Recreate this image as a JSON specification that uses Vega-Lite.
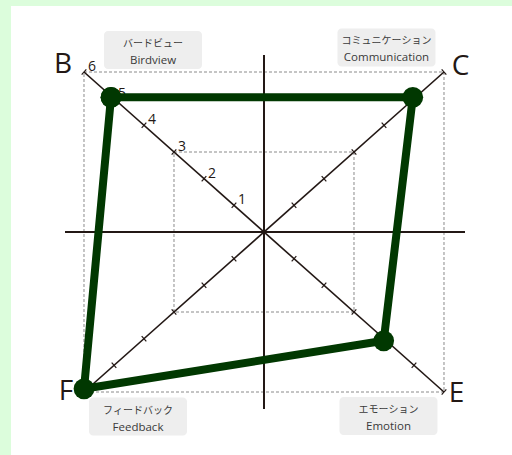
{
  "$schema": "https://vega.github.io/schema/vega-lite/v6.json",
  "width": 512,
  "height": 455,
  "autosize": {"type": "none"},
  "padding": 0,
  "background": "#dcfddc",
  "config": {"view": {"stroke": null}},
  "encoding": {
    "x": {"field": "x", "type": "quantitative", "axis": null, "scale": {"domain": [-8.8, 8.2667], "nice": false, "zero": false}},
    "y": {"field": "y", "type": "quantitative", "axis": null, "scale": {"domain": [-8.3625, 8.7], "nice": false, "zero": false}}
  },
  "layer": [
    {
      "data": {"values": [{"x": -8.433, "x2": 8.2667, "y": 8.475, "y2": -8.3625}]},
      "mark": {"type": "rect", "fill": "white"},
      "encoding": {"x2": {"field": "x2"}, "y2": {"field": "y2"}}
    },
    {
      "data": {"values": [{"x": -6, "x2": 6, "y": 6, "y2": -6}, {"x": -3, "x2": 3, "y": 3, "y2": -3}]},
      "mark": {"type": "rect", "fillOpacity": 0, "stroke": "#8a8a8a", "strokeWidth": 1, "strokeDash": [3, 2]},
      "encoding": {"x2": {"field": "x2"}, "y2": {"field": "y2"}}
    },
    {
      "data": {"values": [{"x": -6.633, "x2": 6.7, "y": 0, "y2": 0}, {"x": 0, "x2": 0, "y": 6.6375, "y2": -6.6375}]},
      "mark": {"type": "rule", "stroke": "#231815", "strokeWidth": 2},
      "encoding": {"x2": {"field": "x2"}, "y2": {"field": "y2"}}
    },
    {
      "data": {"values": [{"x": -6, "x2": 6, "y": 6, "y2": -6}, {"x": -6, "x2": 6, "y": -6, "y2": 6}]},
      "mark": {"type": "rule", "stroke": "#231815", "strokeWidth": 1.6},
      "encoding": {"x2": {"field": "x2"}, "y2": {"field": "y2"}}
    },
    {
      "data": {"values": [
        {"x": -1, "y": 1}, {"x": -2, "y": 2}, {"x": -3, "y": 3}, {"x": -4, "y": 4}, {"x": -5, "y": 5}, {"x": -6, "y": 6},
        {"x": 1, "y": -1}, {"x": 2, "y": -2}, {"x": 3, "y": -3}, {"x": 4, "y": -4}, {"x": 5, "y": -5}, {"x": 6, "y": -6}
      ]},
      "mark": {"type": "point", "shape": "stroke", "angle": 131.6, "size": 49, "filled": false, "stroke": "#231815", "strokeWidth": 1.2, "opacity": 1}
    },
    {
      "data": {"values": [
        {"x": 1, "y": 1}, {"x": 2, "y": 2}, {"x": 3, "y": 3}, {"x": 4, "y": 4}, {"x": 5, "y": 5}, {"x": 6, "y": 6},
        {"x": -1, "y": -1}, {"x": -2, "y": -2}, {"x": -3, "y": -3}, {"x": -4, "y": -4}, {"x": -5, "y": -5}, {"x": -6, "y": -6}
      ]},
      "mark": {"type": "point", "shape": "stroke", "angle": 48.4, "size": 49, "filled": false, "stroke": "#231815", "strokeWidth": 1.2, "opacity": 1}
    },
    {
      "data": {"values": [
        {"x": -1, "y": 1, "t": "1"}, {"x": -2, "y": 2, "t": "2"}, {"x": -3, "y": 3, "t": "3"},
        {"x": -4, "y": 4, "t": "4"}, {"x": -5, "y": 5, "t": "5"}, {"x": -6, "y": 6, "t": "6"}
      ]},
      "mark": {"type": "text", "align": "left", "baseline": "alphabetic", "dx": 4, "dy": -1, "fontSize": 14, "font": "Open Sans", "color": "#231815"},
      "encoding": {"text": {"field": "t"}}
    },
    {
      "data": {"values": [
        {"x": -3.7, "y": 6.825, "jp": "バードビュー", "en": "Birdview"},
        {"x": 4.083, "y": 6.919, "jp": "コミュニケーション", "en": "Communication"},
        {"x": -4.2, "y": -6.919, "jp": "フィードバック", "en": "Feedback"},
        {"x": 4.15, "y": -6.9, "jp": "エモーション", "en": "Emotion"}
      ]},
      "layer": [
        {"mark": {"type": "rect", "width": 98, "height": 38, "cornerRadius": 4, "fill": "#eeeeee"}},
        {"mark": {"type": "text", "align": "center", "baseline": "alphabetic", "dy": -3, "fontSize": 10, "font": "Noto Sans CJK JP", "color": "#3a3a3a"}, "encoding": {"text": {"field": "jp"}}},
        {"mark": {"type": "text", "align": "center", "baseline": "alphabetic", "dy": 14, "fontSize": 11.5, "font": "Open Sans", "color": "#3a3a3a"}, "encoding": {"text": {"field": "en"}}}
      ]
    },
    {
      "data": {"values": [
        {"x": -6.7, "y": 5.9625, "t": "B"},
        {"x": 6.55, "y": 5.89, "t": "C"},
        {"x": 6.417, "y": -6.375, "t": "E"},
        {"x": -6.6, "y": -6.3, "t": "F"}
      ]},
      "mark": {"type": "text", "align": "center", "baseline": "alphabetic", "fontSize": 28, "font": "Open Sans", "color": "#231815"},
      "encoding": {"text": {"field": "t"}}
    },
    {
      "data": {"values": [
        {"k": "B", "o": 1, "x": -5.1, "y": 5.05},
        {"k": "C", "o": 2, "x": 4.96, "y": 5.05},
        {"k": "E", "o": 3, "x": 3.99, "y": -4.08},
        {"k": "F", "o": 4, "x": -6.0, "y": -5.88},
        {"k": "B", "o": 5, "x": -5.1, "y": 5.05}
      ]},
      "layer": [
        {"mark": {"type": "line", "stroke": "#013801", "strokeWidth": 8, "strokeJoin": "round"}, "encoding": {"order": {"field": "o", "type": "quantitative"}}},
        {"mark": {"type": "point", "shape": "circle", "filled": true, "size": 430, "color": "#013801", "opacity": 1}}
      ]
    }
  ]
}
